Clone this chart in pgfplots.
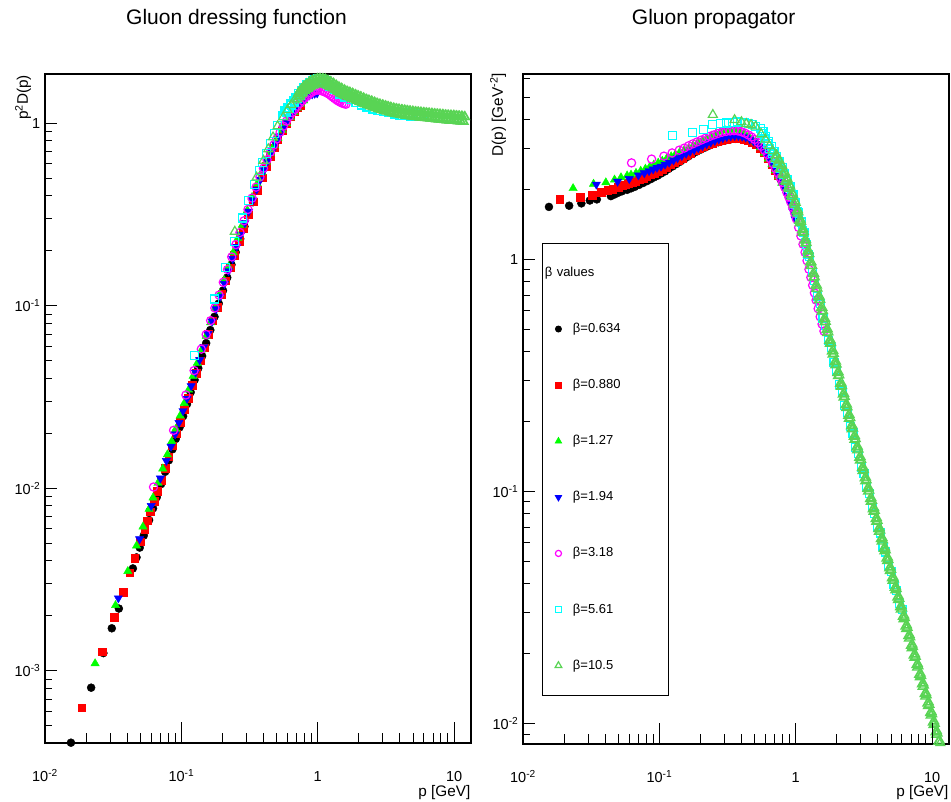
\documentclass[border=0pt]{standalone}
\usepackage{pgfplots}
\usepackage{pgfplotstable}
\pgfplotsset{compat=1.18}
\usepackage{fontspec}
\setmainfont{Liberation Sans}
\definecolor{rgreen}{RGB}{0,255,0}
\definecolor{rcyan}{RGB}{0,255,255}
\definecolor{rmag}{RGB}{255,0,255}
\definecolor{lgreen}{RGB}{89,212,84}
\newcommand\tickfont{\fontsize{14.5pt}{16pt}\selectfont}
\newcommand\labfont{\fontsize{15.3pt}{17pt}\selectfont}

% columns: p [GeV], D(p) [GeV^-2], p^2 D(p)
\pgfplotstableread{
p D Z
0.0155 1.68 4.036e-4
0.0218 1.70 8.079e-4
0.0268 1.74 1.2497e-3
0.0309 1.79 1.709e-3
0.0348 1.81 2.192e-3
0.0441 1.87 3.637e-3
0.0469 1.90 4.179e-3
0.0495 1.93 4.729e-3
0.053 1.96 5.506e-3
0.058 1.99 6.694e-3
0.062 2.02 7.765e-3
0.066 2.05 8.930e-3
0.071 2.09 1.0536e-2
0.076 2.13 1.2303e-2
0.081 2.17 1.4237e-2
0.086 2.21 1.6345e-2
0.091 2.25 1.8632e-2
0.097 2.29 2.1547e-2
0.103 2.34 2.4825e-2
0.110 2.39 0.028919
0.117 2.45 0.033538
0.125 2.51 0.039219
0.133 2.57 0.045461
0.142 2.63 0.053031
0.152 2.70 0.062381
0.163 2.77 0.073596
0.175 2.84 0.086975
0.188 2.91 0.102851
0.202 2.97 0.121188
0.217 3.03 0.142680
0.233 3.09 0.167753
0.250 3.14 0.19625
0.270 3.19 0.232551
0.290 3.23 0.271643
0.310 3.26 0.313286
0.335 3.29 0.369220
0.360 3.30 0.42768
0.390 3.30 0.50193
0.420 3.28 0.578592
0.450 3.24 0.6561
0.480 3.19 0.734976
0.510 3.12 0.811512
0.550 3.01 0.910525
0.590 2.89 1.005999
0.630 2.75 1.091475
0.670 2.60 1.16714
0.710 2.45 1.235045
0.750 2.30 1.29375
0.780 2.19 1.332396
}\tblA

\pgfplotstableread{
p D Z
0.0186 1.81 6.262e-4
0.0262 1.85 1.2699e-3
0.0323 1.89 1.9718e-3
0.0373 1.94 2.6991e-3
0.0417 1.98 3.4430e-3
0.0455 2.00 4.1405e-3
0.0500 2.04 5.1e-3
0.0537 2.07 5.9692e-3
0.0564 2.09 6.6482e-3
0.0593 2.12 7.4550e-3
0.0630 2.14 8.4937e-3
0.0667 2.17 9.6541e-3
0.0710 2.20 1.10902e-2
0.0760 2.23 1.28805e-2
0.0810 2.27 1.48935e-2
0.0860 2.31 1.70848e-2
0.0920 2.35 1.98904e-2
0.0980 2.39 2.29536e-2
0.105 2.44 0.026901
0.112 2.49 0.031235
0.120 2.55 0.03672
0.128 2.60 0.042598
0.137 2.66 0.049926
0.147 2.72 0.058776
0.158 2.79 0.069650
0.170 2.86 0.082654
0.183 2.93 0.098123
0.197 2.99 0.116039
0.212 3.05 0.137079
0.228 3.11 0.161670
0.245 3.16 0.189679
0.265 3.21 0.225422
0.285 3.25 0.263981
0.310 3.28 0.315208
0.335 3.31 0.371465
0.360 3.32 0.430272
0.390 3.31 0.503451
0.420 3.29 0.580356
0.450 3.25 0.658125
0.480 3.19 0.734976
0.510 3.12 0.811512
0.550 3.01 0.910525
0.590 2.88 1.002528
0.630 2.73 1.083537
0.670 2.57 1.153673
0.710 2.41 1.214881
0.740 2.29 1.254004
}\tblB

\pgfplotstableread{
p D Z
0.0233 2.02 1.0966e-3
0.0329 2.11 2.2839e-3
0.0405 2.14 3.5101e-3
0.0469 2.20 4.8391e-3
0.0523 2.25 6.1544e-3
0.0580 2.29 7.7036e-3
0.0620 2.31 8.8796e-3
0.0674 2.35 1.06755e-2
0.0730 2.40 1.27896e-2
0.0790 2.45 1.52905e-2
0.0850 2.50 1.80625e-2
0.0910 2.55 2.11166e-2
0.0980 2.60 2.49704e-2
0.105 2.65 0.0292163
0.113 2.71 0.0346040
0.122 2.77 0.0412287
0.131 2.83 0.0485656
0.141 2.89 0.0574561
0.152 2.95 0.0681568
0.164 3.01 0.0809570
0.177 3.09 0.096807
0.191 3.17 0.115645
0.206 3.25 0.137917
0.222 3.32 0.163623
0.240 3.40 0.19584
0.260 3.47 0.234572
0.280 3.53 0.276752
0.305 3.58 0.333030
0.330 3.61 0.393129
0.360 3.60 0.46656
0.390 3.55 0.539955
0.420 3.48 0.613872
0.450 3.39 0.686475
0.480 3.29 0.758016
0.510 3.18 0.827118
0.550 3.03 0.916575
0.590 2.87 0.999047
0.630 2.71 1.075599
0.670 2.56 1.149184
0.710 2.41 1.214881
0.750 2.27 1.276875
0.790 2.13 1.329333
}\tblC

\pgfplotstableread{
p D Z
0.0345 2.10 2.4995e-3
0.0494 2.16 5.2712e-3
0.0601 2.22 8.0187e-3
0.0702 2.30 1.13345e-2
0.0776 2.35 1.41511e-2
0.0840 2.40 1.69344e-2
0.0900 2.44 1.9764e-2
0.0960 2.48 2.28557e-2
0.1028 2.51 0.0265253
0.110 2.56 0.030976
0.118 2.61 0.0363416
0.127 2.67 0.0430644
0.136 2.73 0.0504941
0.146 2.79 0.0594716
0.157 2.85 0.0702497
0.168 2.91 0.0821318
0.180 2.96 0.095904
0.193 3.02 0.112492
0.207 3.08 0.131975
0.222 3.14 0.154752
0.238 3.19 0.180694
0.255 3.24 0.210681
0.273 3.29 0.245200
0.292 3.33 0.283929
0.312 3.37 0.328049
0.334 3.39 0.378175
0.357 3.40 0.433327
0.380 3.40 0.49096
0.405 3.38 0.554405
0.430 3.35 0.619415
0.460 3.29 0.696164
0.490 3.22 0.773122
0.520 3.14 0.849056
0.555 3.04 0.936396
0.590 2.92 1.016452
0.630 2.78 1.103382
0.670 2.62 1.176118
0.710 2.46 1.240086
0.750 2.32 1.305
0.790 2.17 1.354297
0.830 2.02 1.391578
0.870 1.88 1.422972
0.910 1.74 1.440894
0.950 1.61 1.453025
0.990 1.49 1.460349
}\tblD

\pgfplotstableread{
p D Z
0.0625 2.60 0.010156
0.0877 2.70 0.020766
0.108 2.78 0.032426
0.124 2.87 0.044129
0.140 2.95 0.05782
0.152 3.01 0.069543
0.164 3.08 0.082840
0.176 3.14 0.097265
0.189 3.20 0.114307
0.203 3.26 0.134341
0.218 3.32 0.157780
0.234 3.38 0.185075
0.251 3.43 0.216093
0.269 3.48 0.251816
0.288 3.52 0.291963
0.308 3.55 0.336767
0.330 3.57 0.388773
0.353 3.58 0.446100
0.377 3.57 0.507401
0.400 3.54 0.5664
0.425 3.49 0.630381
0.450 3.43 0.694575
0.475 3.36 0.7581
0.500 3.28 0.82
0.530 3.18 0.893262
0.560 3.07 0.962752
0.590 2.95 1.026895
0.620 2.83 1.087852
0.650 2.71 1.144975
0.680 2.58 1.192992
0.710 2.46 1.240086
0.740 2.35 1.28686
0.770 2.24 1.328096
0.800 2.14 1.3696
0.830 2.04 1.405356
0.860 1.94 1.434824
0.890 1.85 1.465385
0.920 1.76 1.489664
0.950 1.67 1.507175
0.980 1.58 1.517432
1.010 1.49 1.519949
1.050 1.37 1.510425
1.090 1.26 1.497006
1.130 1.16 1.481204
1.170 1.07 1.464723
1.210 0.985 1.442139
1.250 0.905 1.414063
1.290 0.835 1.389524
1.330 0.772 1.365591
1.370 0.716 1.343860
1.410 0.666 1.324075
1.460 0.612 1.304539
1.510 0.565 1.288257
1.560 0.525 1.27764
1.610 0.490 1.270129
}\tblE

\pgfplotstableread{
p D Z
0.1253 3.40 0.05338
0.176 3.51 0.10873
0.211 3.63 0.16161
0.244 3.79 0.22564
0.281 3.83 0.30242
0.312 3.86 0.37575
0.345 3.89 0.46301
0.374 3.93 0.54971
0.396 3.88 0.60845
0.420 3.87 0.68267
0.449 3.85 0.77616
0.480 3.81 0.87782
0.510 3.74 0.97277
0.54954 3.6453 1.1009
0.56234 3.4864 1.1025
0.57544 3.5425 1.1730
0.58884 3.3209 1.1515
0.60256 3.3711 1.2240
0.61660 3.1577 1.2005
0.63096 3.2027 1.2750
0.64565 3.0043 1.2524
0.66069 3.0517 1.3321
0.67608 2.8601 1.3073
0.69183 2.9025 1.3892
0.70795 2.7180 1.3622
0.72444 2.7599 1.4484
0.74131 2.5858 1.4210
0.75858 2.6234 1.5096
0.77625 2.4559 1.4798
0.79433 2.4896 1.5708
0.81283 2.3199 1.5327
0.83176 2.3412 1.6198
0.85114 2.1807 1.5798
0.87096 2.1999 1.6687
0.89125 2.0480 1.6268
0.91201 2.0504 1.7054
0.93325 1.8949 1.6503
0.95499 1.8968 1.7299
0.97724 1.7526 1.6738
1.0000 1.7544 1.7544
1.0233 1.6060 1.6817
1.0471 1.5926 1.7462
1.0715 1.4578 1.6738
1.0965 1.4457 1.7381
1.1220 1.3234 1.6660
1.1482 1.2999 1.7136
1.1749 1.1785 1.6268
1.2023 1.1573 1.6728
1.2303 1.0489 1.5876
1.2589 1.0297 1.6320
1.3183 0.8775 1.5249
1.3804 0.8094 1.5422
1.4454 0.6923 1.4465
1.5136 0.6447 1.4770
1.5849 0.5540 1.3916
1.6596 0.5185 1.4280
1.7378 0.4478 1.3524
1.8197 0.4177 1.3831
1.9055 0.3584 1.3014
1.9953 0.3331 1.3260
2.0893 0.2883 1.2583
2.1878 0.2702 1.2934
2.2909 0.2338 1.2270
2.3988 0.2191 1.2607
2.5119 0.1895 1.1956
2.6303 0.1784 1.2342
2.7542 0.1550 1.1760
2.8840 0.1459 1.2138
3.0200 0.1268 1.1564
3.1623 0.1193 1.1934
3.3113 0.1039 1.1388
3.4674 0.09791 1.1771
3.6308 0.08520 1.1231
3.8019 0.08031 1.1608
3.9811 0.06987 1.1074
4.1687 0.06615 1.1495
4.3652 0.05781 1.1015
4.5709 0.05473 1.1434
4.7863 0.04783 1.0956
5.0119 0.04528 1.1373
5.2481 0.03960 1.0907
5.4954 0.03752 1.1332
5.7544 0.03279 1.0858
6.0256 0.03104 1.1271
}\tblF

\pgfplotstableread{
p D Z
0.2466 4.19 0.25480
0.356 3.98 0.50441
0.400 3.90 0.62400
0.434 3.83 0.72140
0.470 3.79 0.83721
0.508 3.73 0.96258
0.558 3.46 1.07732
0.600 3.28 1.18080
0.640 3.08 1.26157
0.675 2.93 1.33498
0.70795 2.710 1.3580
0.72444 2.807 1.4729
0.74131 2.577 1.4162
0.75858 2.667 1.5347
0.77625 2.447 1.4744
0.79433 2.530 1.5965
0.81283 2.305 1.5229
0.83176 2.367 1.6377
0.85114 2.156 1.5617
0.87096 2.213 1.6789
0.89125 2.015 1.6005
0.91201 2.056 1.7098
0.93325 1.860 1.6199
0.95499 1.897 1.7304
0.97724 1.717 1.6393
1.0000 1.751 1.7510
1.0233 1.5730 1.6471
1.0471 1.5932 1.7469
1.0715 1.4311 1.6432
1.0965 1.4496 1.7428
1.1220 1.3021 1.6393
1.1482 1.3095 1.7263
1.1749 1.1679 1.6121
1.2023 1.1743 1.6974
1.2303 1.0472 1.5850
1.2589 1.0528 1.6686
1.2882 0.9363 1.5539
1.3183 0.9388 1.6315
1.3490 0.8348 1.5190
1.3804 0.8368 1.5944
1.4125 0.7438 1.4841
1.4454 0.7474 1.5615
1.4791 0.6659 1.4569
1.5136 0.6690 1.5326
1.5488 0.5960 1.4298
1.5849 0.5987 1.5038
1.6218 0.5347 1.4065
1.6596 0.5385 1.4832
1.6982 0.4810 1.3871
1.7378 0.4843 1.4626
1.7783 0.4325 1.3677
1.8197 0.4355 1.4420
1.8621 0.3889 1.3483
1.9055 0.3915 1.4214
1.9498 0.3495 1.3289
1.9953 0.3519 1.4008
2.0417 0.3141 1.3095
2.0893 0.3162 1.3802
2.1380 0.2823 1.2901
2.1878 0.2841 1.3596
2.2387 0.2535 1.2707
2.2909 0.2555 1.3411
2.3442 0.2284 1.2552
2.3988 0.2302 1.3246
2.4547 0.2057 1.2397
2.5119 0.2073 1.3081
2.5704 0.1853 1.2241
2.6303 0.1867 1.2916
2.6915 0.1668 1.2086
2.7542 0.1681 1.2751
2.8184 0.1502 1.1931
2.8840 0.1516 1.2607
2.9512 0.1357 1.1815
3.0200 0.1369 1.2484
3.0903 0.1225 1.1698
3.1623 0.1236 1.2360
3.2359 0.11061 1.1582
3.3113 0.11160 1.2236
3.3884 0.09986 1.1465
3.4674 0.10075 1.2113
3.5481 0.09015 1.1349
3.6308 0.09110 1.2010
3.7154 0.08165 1.1271
3.8019 0.08252 1.1927
3.8905 0.07396 1.1194
3.9811 0.07474 1.1845
4.0738 0.06704 1.1126
4.1687 0.06780 1.1783
4.2658 0.06082 1.1068
4.3652 0.06151 1.1721
4.4668 0.05518 1.1010
4.5709 0.05581 1.1660
4.6774 0.05006 1.0951
4.7863 0.05063 1.1598
4.8978 0.04541 1.0893
5.0119 0.04593 1.1536
5.1286 0.04123 1.0845
5.2481 0.04174 1.1495
5.3703 0.03747 1.0806
5.4954 0.03793 1.1454
5.6234 0.03405 1.0767
5.7544 0.03446 1.1412
5.8884 0.03094 1.0728
6.0256 0.03132 1.1371
6.1660 0.02812 1.0689
6.3096 0.02846 1.1330
6.4565 0.02555 1.0651
6.6069 0.02586 1.1289
6.7608 0.02322 1.0612
6.9183 0.02350 1.1248
7.0795 0.02110 1.0573
7.2444 0.02135 1.1206
7.4131 0.01917 1.0534
7.5858 0.01940 1.1165
7.7625 0.01742 1.0495
7.9433 0.01763 1.1124
8.1283 0.01583 1.0457
8.3176 0.01602 1.1083
8.5114 0.01438 1.0418
8.7096 0.01456 1.1042
8.9125 0.01307 1.0379
9.1201 0.01324 1.1011
9.3325 0.01190 1.0360
9.5499 0.01205 1.0990
9.7724 0.01083 1.0340
10.000 0.01097 1.0970
10.233 0.009847 1.0311
10.471 0.009967 1.0928
10.715 0.008947 1.0272
10.965 0.009055 1.0887
11.220 0.008129 1.0234
11.482 0.008228 1.0846
11.749 0.007392 1.0204
12.023 0.007482 1.0815
0.71615 2.8121 1.4420
0.73283 2.5833 1.3871
0.74989 2.6741 1.5038
0.76736 2.4545 1.4453
0.78524 2.5392 1.5656
0.80353 2.3284 1.5035
0.82224 2.3919 1.6171
0.84139 2.1784 1.5423
0.86100 2.2373 1.6583
0.88104 2.0366 1.5811
0.90157 2.0909 1.6995
0.92257 1.8922 1.6102
0.94406 1.9301 1.7201
0.96605 1.7458 1.6296
0.98856 1.7817 1.7407
1.01158 1.6115 1.6490
1.03515 1.6323 1.7490
1.05922 1.4662 1.6451
1.08391 1.4850 1.7449
1.10920 1.3341 1.6413
1.13499 1.3512 1.7407
1.16150 1.2051 1.6257
1.18850 1.2119 1.7118
1.21622 1.0807 1.5985
1.24455 1.0867 1.6830
1.27348 0.9689 1.5714
1.30312 0.9716 1.6500
1.33357 0.8640 1.5365
1.36462 0.8663 1.6130
1.39638 0.7701 1.5015
1.42886 0.7718 1.5759
1.46214 0.6878 1.4705
1.49623 0.6910 1.5470
1.53113 0.6157 1.4433
1.56673 0.6185 1.5182
1.60325 0.5510 1.4162
1.64058 0.5549 1.4935
1.67882 0.4956 1.3968
1.71786 0.4991 1.4729
1.75792 0.4457 1.3774
1.79889 0.4488 1.4523
1.84077 0.4008 1.3580
1.88366 0.4036 1.4317
1.92756 0.3603 1.3386
1.97238 0.3627 1.4111
2.01840 0.3239 1.3192
2.06534 0.3259 1.3905
2.11349 0.2910 1.2998
2.16276 0.2929 1.3699
2.21313 0.2615 1.2804
2.26462 0.2631 1.3493
2.31743 0.2351 1.2630
2.37134 0.2370 1.3328
2.42658 0.2119 1.2474
2.48312 0.2135 1.3164
2.54099 0.1908 1.2319
2.60016 0.1923 1.2998
2.66076 0.1718 1.2164
2.72267 0.1731 1.2834
2.78609 0.1547 1.2008
2.85103 0.1559 1.2669
2.91739 0.1395 1.1873
2.98537 0.1408 1.2546
3.05497 0.1260 1.1757
3.12608 0.1271 1.2422
3.19892 0.1138 1.1640
3.27337 0.11478 1.2298
3.34964 0.10271 1.1523
3.42764 0.10362 1.2174
3.50755 0.09272 1.1407
3.58918 0.09355 1.2051
3.67284 0.08384 1.1310
3.75842 0.08473 1.1968
3.84592 0.07594 1.1232
3.93555 0.07675 1.1886
4.02720 0.06878 1.1155
4.12097 0.06957 1.1814
4.21697 0.06240 1.1097
4.31519 0.06311 1.1753
4.41574 0.05661 1.1038
4.51852 0.05726 1.1691
4.62383 0.05136 1.0981
4.73156 0.05195 1.1628
4.84172 0.04660 1.0922
4.95451 0.04712 1.1567
5.06993 0.04227 1.0864
5.18798 0.04278 1.1516
5.30887 0.03841 1.0825
5.43248 0.03888 1.1474
5.55903 0.03491 1.0787
5.68852 0.03533 1.1433
5.82103 0.03171 1.0747
5.95658 0.03211 1.1392
6.09537 0.02882 1.0709
6.23740 0.02918 1.1350
6.38266 0.02619 1.0670
6.53126 0.02651 1.1310
6.68340 0.02380 1.0631
6.83909 0.02410 1.1268
6.99841 0.02163 1.0593
7.16148 0.02190 1.1227
7.32829 0.01965 1.0553
7.49894 0.01989 1.1186
7.67364 0.01785 1.0515
7.85239 0.01808 1.1144
8.03528 0.01622 1.0476
8.22242 0.01643 1.1104
8.41391 0.01474 1.0437
8.61000 0.01492 1.1062
8.81045 0.01340 1.0399
9.01570 0.01356 1.1021
9.22570 0.01218 1.0370
9.44056 0.01235 1.1001
9.66048 0.01109 1.0350
9.88556 0.01124 1.0980
10.1158 0.010096 1.0331
10.3515 0.010218 1.0949
10.5923 0.009173 1.0291
10.8391 0.009284 1.0907
11.0920 0.008333 1.0253
11.3499 0.008435 1.0867
11.6150 0.007572 1.0214
11.8850 0.007671 1.0835
}\tblG

\pgfplotsset{
  legimg/.style={legend image code/.code={%
      \path[draw=none, fill=none] (0pt,-6pt) rectangle (17pt,6pt);
      \draw[##1, only marks, every mark/.append style={scale=0.75}] plot coordinates {(8.5pt,0pt)};}},
  sA/.style={only marks, mark=*, black, mark size=4.0pt, legimg},
  sB/.style={only marks, mark=square*, red, mark size=3.8pt, legimg},
  sC/.style={only marks, mark=triangle*, rgreen, mark size=4.8pt, legimg},
  sD/.style={only marks, mark=triangle*, blue, mark size=4.8pt, mark options={rotate=180}, legimg},
  sE/.style={only marks, mark=o, rmag, mark size=4.1pt, line width=1.2pt, legimg},
  sF/.style={only marks, mark=square, rcyan, mark size=4.0pt, line width=1.2pt, legimg},
  sG/.style={only marks, mark=triangle, lgreen, mark size=5.2pt, line width=1.2pt, legimg},
}

\begin{document}
\begin{tikzpicture}[x=1pt,y=1pt]
\path[use as bounding box, fill=white] (0,0) rectangle (951,801);

% ---------------- left panel ----------------
\begin{loglogaxis}[scale only axis, width=426pt, height=669pt,
  at={(45pt,58pt)}, anchor=south west,
  xmin=0.01, xmax=13.3, ymin=4.02e-4, ymax=1.86,
  tick pos=left, tick align=inside, tick style={black, line width=0.9pt},
  axis line style={line width=1.3pt, black}, xtick=\empty,
  major tick length=12pt, minor tick length=6.7pt,
  yticklabel style={font=\tickfont, inner sep=0pt, xshift=-4.5pt},
  ytick={1e-3,1e-2,1e-1,1},
  yticklabels={{10\textsuperscript{-3}},{10\textsuperscript{-2}},{10\textsuperscript{-1}},1},
  minor ytick={5e-4,6e-4,7e-4,8e-4,9e-4,2e-3,3e-3,4e-3,5e-3,6e-3,7e-3,8e-3,9e-3,2e-2,3e-2,4e-2,5e-2,6e-2,7e-2,8e-2,9e-2,0.2,0.3,0.4,0.5,0.6,0.7,0.8,0.9}]
\addplot[sA] table[x=p,y=Z]{\tblA};
\addplot[sB] table[x=p,y=Z]{\tblB};
\addplot[sC] table[x=p,y=Z]{\tblC};
\addplot[sD] table[x=p,y=Z]{\tblD};
\addplot[sE] table[x=p,y=Z]{\tblE};
\addplot[sF] table[x=p,y=Z]{\tblF};
\addplot[sG] table[x=p,y=Z]{\tblG};
\end{loglogaxis}
\begin{loglogaxis}[scale only axis, width=426pt, height=669pt,
  at={(45pt,58pt)}, anchor=south west,
  xmin=0.01, xmax=13.3, ymin=4.02e-4, ymax=1.86,
  tick pos=left, tick align=inside, tick style={black, line width=0.9pt},
  axis line style={draw=none}, ytick=\empty,
  xtick={0.01,0.1,1,10},
  xticklabels={{10\textsuperscript{-2}},{10\textsuperscript{-1}},1,10},
  minor xtick={0.02,0.03,0.04,0.05,0.06,0.07,0.08,0.09,0.2,0.3,0.4,0.5,0.6,0.7,0.8,0.9,2,3,4,5,6,7,8,9},
  major tick length=21.5pt, minor tick length=10pt,
  xticklabel style={font=\tickfont, anchor=base, inner sep=0pt, yshift=-38.5pt}]
\end{loglogaxis}

% ---------------- right panel ----------------
\begin{loglogaxis}[scale only axis, width=426pt, height=670pt,
  at={(523pt,57pt)}, anchor=south west,
  xmin=0.01, xmax=13.3, ymin=0.00815, ymax=6.28,
  tick pos=left, tick align=inside, tick style={black, line width=0.9pt},
  axis line style={line width=1.3pt, black}, xtick=\empty,
  major tick length=12pt, minor tick length=6.7pt,
  yticklabel style={font=\tickfont, inner sep=0pt, xshift=-4.5pt},
  ytick={1e-2,1e-1,1},
  yticklabels={{10\textsuperscript{-2}},{10\textsuperscript{-1}},1},
  minor ytick={9e-3,2e-2,3e-2,4e-2,5e-2,6e-2,7e-2,8e-2,9e-2,0.2,0.3,0.4,0.5,0.6,0.7,0.8,0.9,2,3,4,5,6},
  legend cell align=left,
  legend style={at={(0.0446,0.7478)}, anchor=north west, draw=black, line width=0.9pt,
    fill=white, inner xsep=7.5pt, inner ysep=23.5pt, row sep=44.1pt, column sep=6pt,
    font=\fontsize{13pt}{15pt}\selectfont,
    nodes={inner sep=0pt, text width=87.9pt, text height=9.5pt, text depth=2.5pt, align=left}}]
\addlegendimage{empty legend}
\addlegendentry{\hspace*{-28pt}β values}
\addplot[sA] table[x=p,y=D]{\tblA};
\addlegendentry{β=0.634}
\addplot[sB] table[x=p,y=D]{\tblB};
\addlegendentry{β=0.880}
\addplot[sC] table[x=p,y=D]{\tblC};
\addlegendentry{β=1.27}
\addplot[sD] table[x=p,y=D]{\tblD};
\addlegendentry{β=1.94}
\addplot[sE] table[x=p,y=D]{\tblE};
\addlegendentry{β=3.18}
\addplot[sF] table[x=p,y=D]{\tblF};
\addlegendentry{β=5.61}
\addplot[sG] table[x=p,y=D]{\tblG};
\addlegendentry{β=10.5}
\end{loglogaxis}
\begin{loglogaxis}[scale only axis, width=426pt, height=670pt,
  at={(523pt,57pt)}, anchor=south west,
  xmin=0.01, xmax=13.3, ymin=0.00815, ymax=6.28,
  tick pos=left, tick align=inside, tick style={black, line width=0.9pt},
  axis line style={draw=none}, ytick=\empty,
  xtick={0.01,0.1,1,10},
  xticklabels={{10\textsuperscript{-2}},{10\textsuperscript{-1}},1,10},
  minor xtick={0.02,0.03,0.04,0.05,0.06,0.07,0.08,0.09,0.2,0.3,0.4,0.5,0.6,0.7,0.8,0.9,2,3,4,5,6,7,8,9},
  major tick length=21.5pt, minor tick length=10pt,
  xticklabel style={font=\tickfont, anchor=base, inner sep=0pt, yshift=-38.5pt}]
\end{loglogaxis}

% ---------------- titles and axis labels ----------------
\node[anchor=base, font=\fontsize{21pt}{24pt}\selectfont] at (236.5,776) {Gluon dressing function};
\node[anchor=base, font=\fontsize{21pt}{24pt}\selectfont] at (713.7,776) {Gluon propagator};
\node[anchor=base east, font=\labfont, inner sep=0pt] at (470.5,4.5) {p [GeV]};
\node[anchor=base east, font=\labfont, inner sep=0pt] at (948.5,4.5) {p [GeV]};
\node[rotate=90, anchor=north east, font=\labfont, inner sep=0pt] at (15,726) {p\textsuperscript{2}D(p)};
\node[rotate=90, anchor=north east, font=\labfont, inner sep=0pt] at (490,728) {D(p) [GeV\textsuperscript{-2}]};
\end{tikzpicture}
\end{document}
